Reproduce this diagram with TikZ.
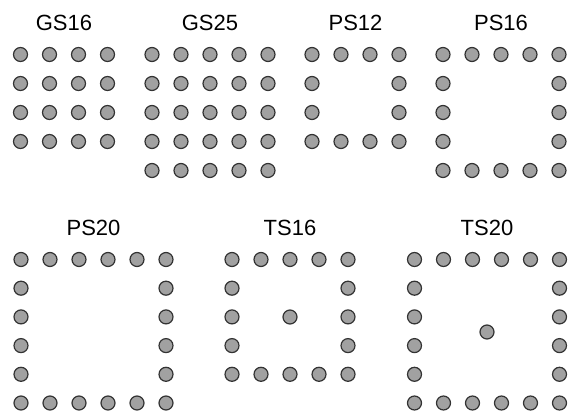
\documentclass[tikz,border=0pt]{standalone}
\usepackage{fontspec}
\setmainfont{Liberation Sans}
\begin{document}
\begin{tikzpicture}[x=1pt,y=-1pt,
  dot/.style={circle,draw=black!80,fill=black!37,line width=1.2pt,minimum size=14pt,inner sep=0pt},
  ttl/.style={anchor=base,font=\fontsize{22}{24}\selectfont,inner sep=0pt}]
\useasboundingbox (0,0) rectangle (570,412);
% titles
\node[ttl] (tGS16) at (64,31) {GS16};
\node[ttl] (tGS25) at (210,31) {GS25};
\node[ttl] (tPS12) at (355.5,31) {PS12};
\node[ttl] (tPS16) at (501,31) {PS16};
\node[ttl] (tPS20) at (93.5,235) {PS20};
\node[ttl] (tTS16) at (290,235) {TS16};
\node[ttl] (tTS20) at (487,235) {TS20};
% GS16: 4x4 full
\foreach \i in {0,...,3}\foreach \j in {0,...,3}
  \node[dot] (a\i\j) at (20.5+29*\i,54.5+29*\j) {};
% GS25: 5x5 full
\foreach \i in {0,...,4}\foreach \j in {0,...,4}
  \node[dot] (b\i\j) at (152+29*\i,54.5+29*\j) {};
% PS12: 4x4 perimeter
\foreach \i in {0,...,3}\foreach \j in {0,...,3}{
  \pgfmathtruncatemacro{\edge}{(\i==0)||(\i==3)||(\j==0)||(\j==3)}
  \ifnum\edge=1 \node[dot] (c\i\j) at (312+29*\i,54.5+29*\j) {};\fi}
% PS16: 5x5 perimeter
\foreach \i in {0,...,4}\foreach \j in {0,...,4}{
  \pgfmathtruncatemacro{\edge}{(\i==0)||(\i==4)||(\j==0)||(\j==4)}
  \ifnum\edge=1 \node[dot] (d\i\j) at (443+29*\i,54.5+29*\j) {};\fi}
% PS20: 6x6 perimeter
\foreach \i in {0,...,5}\foreach \j in {0,...,5}{
  \pgfmathtruncatemacro{\edge}{(\i==0)||(\i==5)||(\j==0)||(\j==5)}
  \ifnum\edge=1 \node[dot] (e\i\j) at (21+29*\i,259.5+28.7*\j) {};\fi}
% TS16: 5x5 perimeter + centre
\foreach \i in {0,...,4}\foreach \j in {0,...,4}{
  \pgfmathtruncatemacro{\edge}{(\i==0)||(\i==4)||(\j==0)||(\j==4)}
  \ifnum\edge=1 \node[dot] (f\i\j) at (232+29*\i,259.5+28.7*\j) {};\fi}
\node[dot] (fc) at (290,317) {};
% TS20: 6x6 perimeter + centre
\foreach \i in {0,...,5}\foreach \j in {0,...,5}{
  \pgfmathtruncatemacro{\edge}{(\i==0)||(\i==5)||(\j==0)||(\j==5)}
  \ifnum\edge=1 \node[dot] (g\i\j) at (414.5+29*\i,259.5+28.7*\j) {};\fi}
\node[dot] (gc) at (487,332) {};
\end{tikzpicture}
\end{document}
